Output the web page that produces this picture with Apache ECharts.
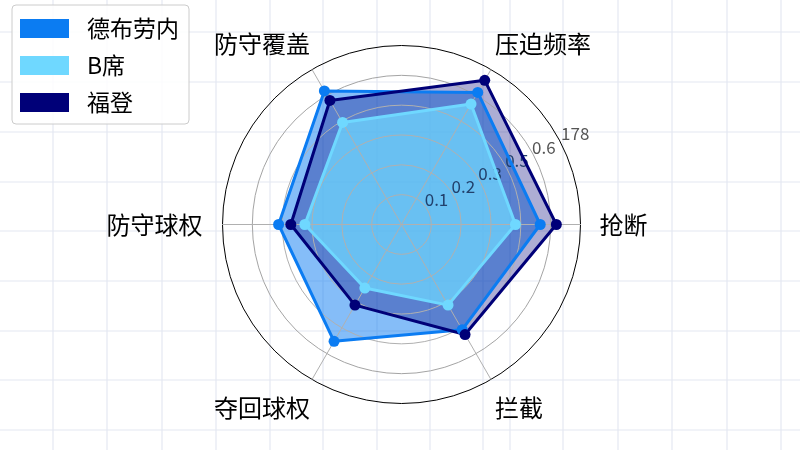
<!DOCTYPE html>
<html>
<head>
<meta charset="utf-8">
<script src="https://cdn.jsdelivr.net/npm/echarts@6/dist/echarts.min.js"></script>
<style>
html,body{margin:0;padding:0;background:#fff;}
#chart{width:800px;height:450px;}
</style>
</head>
<body>
<div id="chart"></div>
<script>
// ---- data ----
const categories = ['抢断', '压迫频率', '防守覆盖', '防守球权', '夺回球权', '拦截'];
const seriesNames = ['德布劳内', 'B席', '福登'];
const deBruyne = [0.465, 0.511, 0.517, 0.412, 0.452, 0.407];
const bernardo = [0.382, 0.466, 0.395, 0.324, 0.246, 0.312];
const foden = [0.519, 0.558, 0.480, 0.371, 0.312, 0.426];
const radialTickLabels = ['0.1', '0.2', '0.3', '0.5', '0.6', '178'];
const radarMax = 0.6;
// background paper grid (decoration)
const paperX = [53, 107, 162, 216, 270, 323, 377, 430, 483, 510, 563, 618, 672, 727, 781];
const paperY = [32, 82, 132, 182, 231, 281, 331, 380, 430];

// ---- styles ----
const colors = { '德布劳内': '#0b7cf2', 'B席': '#6fd8ff', '福登': '#000078' };
const fillOpacity = { '德布劳内': 0.5, 'B席': 0.72, '福登': 0.32 };
const values = { '德布劳内': deBruyne, 'B席': bernardo, '福登': foden };
const CENTER = [401.5, 224.5];
const LABEL_CENTER = [425, 220];
const OUTER_LABEL_CENTER = [432, 219];
const RADIUS = 179;
const FONT = '"Noto Sans CJK SC", "Noto Sans", sans-serif';
// per-indicator name padding [top, right, bottom, left]
const namePad = [[0, 0, 0, 15], [0, 0, 44, 2], [0, 0, 44, 0], [0, 16, 0, 0], [49, 0, 0, 0], [49, 0, 0, 2]];

const chart = echarts.init(document.getElementById('chart'), null, { renderer: 'canvas' });

const graphics = [];
paperX.forEach(x => graphics.push({ type: 'line', z: -10, silent: true,
  shape: { x1: x, y1: 0, x2: x, y2: 450 }, style: { stroke: '#e4e8f2', lineWidth: 1.2 } }));
paperY.forEach(y => graphics.push({ type: 'line', z: -10, silent: true,
  shape: { x1: 0, y1: y, x2: 800, y2: y }, style: { stroke: '#e4e8f2', lineWidth: 1.2 } }));

const fillOrder = ['德布劳内', '福登', 'B席'];
const lineOrder = ['德布劳内', 'B席', '福登'];

const series = [];
fillOrder.forEach(n => series.push({
  type: 'radar', name: n, z: 1, symbol: 'none', silent: true,
  itemStyle: { color: colors[n] },
  lineStyle: { width: 0, opacity: 0 },
  areaStyle: { color: colors[n], opacity: fillOpacity[n] },
  data: [{ value: values[n], name: n }]
}));
lineOrder.forEach(n => series.push({
  type: 'radar', name: n, z: 3, symbol: 'circle', symbolSize: 11,
  itemStyle: { color: colors[n] },
  lineStyle: { width: 3, color: colors[n] },
  data: [{ value: values[n], name: n }]
}));

const nameRich = {};
categories.forEach((c, i) => {
  nameRich['n' + i] = { color: '#000', fontSize: 24, fontFamily: FONT, padding: namePad[i] };
});

const tickRich = {
  d: { color: '#22406c', fontSize: 17, fontFamily: FONT },
  g: { color: '#555555', fontSize: 17, fontFamily: FONT }
};
function makeRadiusAxis(polarIndex, wantOuter) {
  return {
    polarIndex: polarIndex,
    type: 'value', min: 0, max: radarMax, interval: 0.1, z: 2,
    axisLine: { show: false }, axisTick: { show: false }, splitLine: { show: false },
    axisLabel: {
      fontSize: 17, fontFamily: FONT, showMaxLabel: wantOuter, showMinLabel: false,
      formatter: function (v) {
        const i = Math.round(v * 10);
        if (i < 1 || i > radialTickLabels.length) return '';
        const isOuter = i === radialTickLabels.length;
        if (isOuter !== wantOuter) return '';
        return (i <= 4 ? '{d|' : '{g|') + radialTickLabels[i - 1] + '}';
      },
      rich: tickRich
    }
  };
}

const option = {
  backgroundColor: '#ffffff',
  animation: false,
  graphic: graphics,
  legend: {
    orient: 'vertical', left: 12, top: 5,
    backgroundColor: 'rgba(255,255,255,0.85)',
    borderColor: '#cccccc', borderWidth: 1, borderRadius: 4,
    padding: [12, 10, 10, 8],
    itemWidth: 49, itemHeight: 19, itemGap: 14,
    icon: 'rect',
    textStyle: { fontSize: 23, color: '#000', fontFamily: FONT, padding: [0, 0, 0, 13] },
    data: seriesNames.map(n => ({ name: n, itemStyle: { color: colors[n], opacity: 1 } }))
  },
  radar: {
    center: CENTER, radius: RADIUS, startAngle: 0, shape: 'circle',
    splitNumber: 6, z: 2,
    indicator: categories.map(c => ({ name: c, min: 0, max: radarMax })),
    axisName: {
      color: '#000', fontSize: 24, fontFamily: FONT,
      formatter: function (name) {
        const i = categories.indexOf(name);
        return '{n' + i + '|' + name + '}';
      },
      rich: nameRich
    },
    nameGap: 4,
    axisLine: { lineStyle: { color: '#b0b0b0', width: 1 } },
    splitLine: { lineStyle: { color: ['#b0b0b0', '#b0b0b0', '#b0b0b0', '#b0b0b0', '#b0b0b0', '#a4a4a4', '#000000'], width: 1 } },
    splitArea: { show: false },
    axisLabel: { show: false }
  },
  polar: [
    { center: LABEL_CENTER, radius: RADIUS },
    { center: OUTER_LABEL_CENTER, radius: RADIUS }
  ],
  angleAxis: [
    { polarIndex: 0, type: 'value', min: 0, max: 360, startAngle: 26, show: false },
    { polarIndex: 1, type: 'value', min: 0, max: 360, startAngle: 26, show: false }
  ],
  radiusAxis: [makeRadiusAxis(0, false), makeRadiusAxis(1, true)],
  series: series
};
chart.setOption(option);
</script>
</body>
</html>
